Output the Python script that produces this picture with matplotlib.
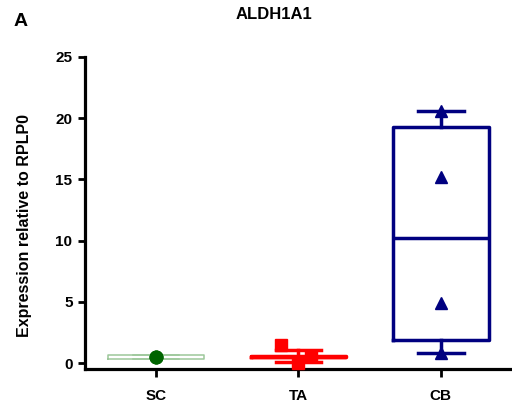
import numpy as np
import matplotlib.pyplot as plt

# === Data ===
groups = ["SC", "TA", "CB"]

sc_values = [0.48, 0.50, 0.52]
ta_values = [1.45, 0.60, 0.02]
cb_values = [20.6, 15.2, 4.9, 0.8]

# box summaries (median, quartiles, whisker ends) as drawn
box_med = [0.50, 0.52, 10.2]
box_q1 = [0.31, 0.47, 1.9]
box_q3 = [0.68, 0.57, 19.3]
box_lo = [0.31, 0.12, 0.8]
box_hi = [0.68, 1.05, 20.6]

y_ticks = [0, 5, 10, 15, 20, 25]

# === Styles ===
box_colors = ["#9cc79a", "#ff0000", "#000080"]
point_colors = ["#006400", "#ff0000", "#000080"]
markers = ["o", "s", "^"]
box_lw = [1.1, 2.5, 2.5]
x_jitter = [[0, 0, 0], [-0.12, 0.09, 0.0], [0, 0, 0, 0]]

plt.rcParams['font.family'] = ['Liberation Sans', 'DejaVu Sans']
plt.rcParams['font.weight'] = 'bold'

fig = plt.figure(figsize=(5.12, 4.19), dpi=100)
ax = fig.add_axes([0.166, 0.119, 0.834, 0.745])

values = [sc_values, ta_values, cb_values]
positions = np.arange(1, len(groups) + 1)

for i, pos in enumerate(positions):
    stats = [dict(med=box_med[i], q1=box_q1[i], q3=box_q3[i],
                  whislo=box_lo[i], whishi=box_hi[i], fliers=[])]
    c = box_colors[i]
    lw = box_lw[i]
    ax.bxp(stats, positions=[pos], widths=0.67, capwidths=0.32,
           showfliers=False, manage_ticks=False,
           boxprops=dict(color=c, linewidth=lw),
           medianprops=dict(color=c, linewidth=lw if i else 0),
           whiskerprops=dict(color=c, linewidth=lw),
           capprops=dict(color=c, linewidth=lw))
    xs = pos + np.array(x_jitter[i])
    ax.plot(xs, values[i], linestyle='none', marker=markers[i],
            color=point_colors[i], markersize=9, zorder=5, clip_on=False)

ax.set_xlim(0.5, 3.5)
ax.set_ylim(-0.5, 25)
ax.set_yticks(y_ticks)
ax.set_xticks(positions)
ax.set_xticklabels(groups)

for side in ['top', 'right']:
    ax.spines[side].set_visible(False)
for side in ['left', 'bottom']:
    ax.spines[side].set_linewidth(2.3)

ax.tick_params(axis='y', direction='out', length=5, width=2, labelsize=11, pad=4)
ax.tick_params(axis='x', direction='out', length=6, width=2, labelsize=11, pad=8)
for lbl in ax.get_xticklabels() + ax.get_yticklabels():
    lbl.set_fontweight('bold')

ax.set_ylabel("Expression relative to RPLP0", fontsize=11.5, fontweight='bold')
ax.yaxis.set_label_coords(-0.125, 0.46)

fig.text(0.535, 0.965, "ALDH1A1", ha='center', va='center', fontsize=12, fontweight='bold')
fig.text(0.04, 0.948, "A", ha='center', va='center', fontsize=14, fontweight='bold')

fig.savefig("out.png", dpi=100)
